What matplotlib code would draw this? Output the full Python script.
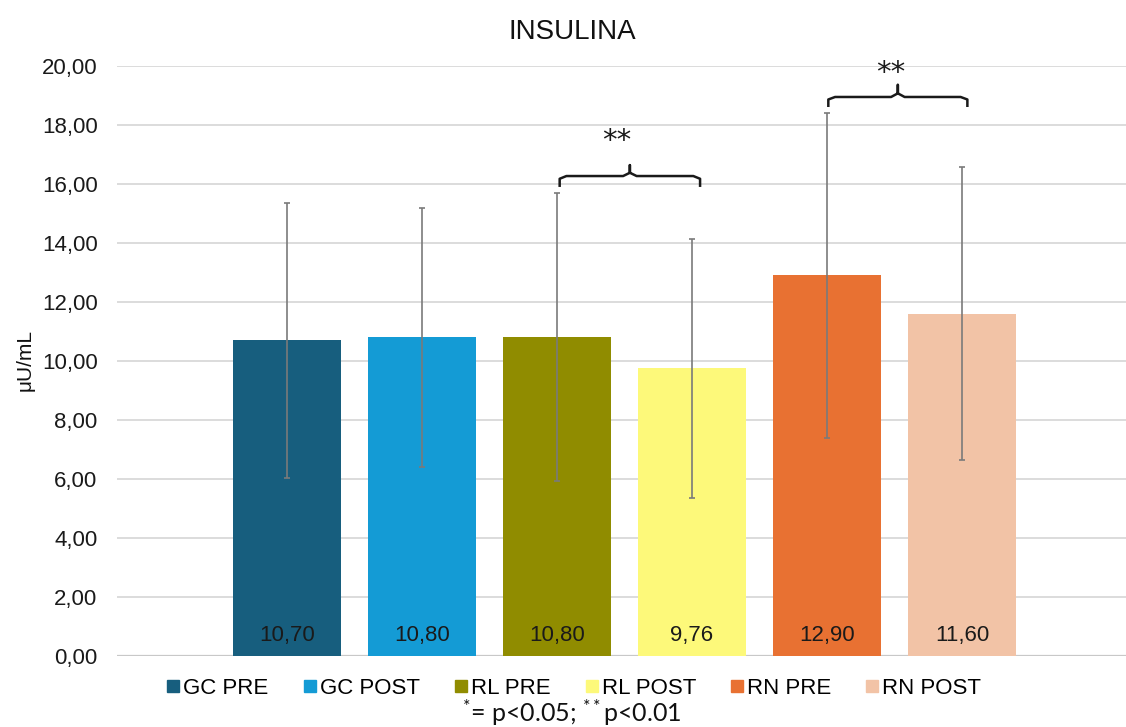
import matplotlib
matplotlib.use("Agg")
import matplotlib.pyplot as plt
from matplotlib.lines import Line2D
import numpy as np

plt.rcParams['font.family'] = ['Liberation Sans', 'DejaVu Sans']
plt.rcParams['mathtext.fontset'] = 'custom'
plt.rcParams['mathtext.rm'] = 'Lato'
plt.rcParams['mathtext.it'] = 'Lato:italic'

# Insulin by group and time point
groups = ["GC PRE", "GC POST", "RL PRE", "RL POST", "RN PRE", "RN POST"]
means = [10.70, 10.80, 10.80, 9.76, 12.90, 11.60]
sds = [4.65, 4.40, 4.88, 4.39, 5.50, 4.97]
value_labels = ["10,70", "10,80", "10,80", "9,76", "12,90", "11,60"]
colors = ["#175E7E", "#149BD5", "#908C00", "#FDF97A", "#E87132", "#F2C3A6"]

# significance brackets: (left bar, right bar, label)
brackets = [(2, 3, "**"), (4, 5, "**")]

fig = plt.figure(figsize=(11.26, 7.27), dpi=100)
ax = fig.add_axes([117 / 1126, 1 - 656 / 727, 1 - 117 / 1126, (656 - 66) / 727])

x = np.arange(len(groups))
ax.bar(x, means, width=0.8, color=colors, zorder=2)
ax.errorbar(x, means, yerr=sds, fmt="none", ecolor="#7a7a7a",
            elinewidth=1.2, capsize=2.2, capthick=1.2, zorder=3)

for xi, lab in zip(x, value_labels):
    ax.text(xi, 0.7, lab, ha="center", va="center", fontsize=16,
            color="#1a1a1a", zorder=4)

ax.set_ylim(0, 20)
ax.set_xlim(-1.259, 6.215)
ax.set_yticks(np.arange(0, 21, 2))
ax.set_yticklabels([f"{v:.2f}".replace(".", ",") for v in np.arange(0, 21, 2)])
ax.tick_params(axis="y", length=0, pad=14, labelsize=16, labelcolor="#1a1a1a")
ax.set_xticks([])
for s in ax.spines.values():
    s.set_visible(False)
ax.grid(axis="y", color="#dcdcdc", linewidth=1.4, zorder=0)
ax.set_axisbelow(True)
ax.axhline(0, color="#c8c8c8", linewidth=1.6, zorder=1)

# curly brackets over compared bars
def brace(ax, x0, x1, y, drop, rise, label, label_dx, label_dy):
    r = 0.05
    xm = (x0 + x1) / 2
    xs = [x0, x0, x0 + r, xm - r, xm, xm, xm, xm + r, x1 - r, x1, x1]
    ys = [y - drop, y - drop * 0.25, y, y, y + rise * 0.3, y + rise,
          y + rise * 0.3, y, y, y - drop * 0.25, y - drop]
    ax.plot(xs, ys, color="#1a1a1a", linewidth=1.8, solid_capstyle="butt",
            solid_joinstyle="round", zorder=5, clip_on=False)
    ax.text(xm + label_dx, y + label_dy, label, ha="center", va="center",
            fontsize=21, color="#1a1a1a", family="DejaVu Sans", zorder=5)

brace(ax, 2.02, 3.06, 16.27, 0.37, 0.37, brackets[0][2], -0.1, 1.2)
brace(ax, 4.01, 5.04, 18.95, 0.34, 0.41, brackets[1][2], -0.05, 0.82)

fig.text(572 / 1126, 1 - 32 / 727, "INSULINA", ha="center", va="center",
         fontsize=20, color="#111111")
fig.text(25 / 1126, 1 - 360 / 727, "μU/mL", rotation=90, ha="center",
         va="center", fontsize=15, color="#111111")

handles = [Line2D([], [], marker="s", linestyle="none", markersize=8,
                  markerfacecolor=c, markeredgecolor=c) for c in colors]
fig.legend(handles, groups, loc="center", bbox_to_anchor=(574 / 1126, 1 - 688 / 727),
           ncol=6, frameon=False, fontsize=16, handlelength=0.6,
           handletextpad=0.15, columnspacing=1.55, borderaxespad=0)

fig.text(572 / 1126, 1 - 713 / 727,
         r"$\mathregular{^{*}}$= p<0.05; $\mathregular{^{**}}$p<0.01",
         ha="center", va="center", fontsize=18, family="Lato", color="#111111")

fig.savefig("out.png", dpi=100, facecolor="white")
